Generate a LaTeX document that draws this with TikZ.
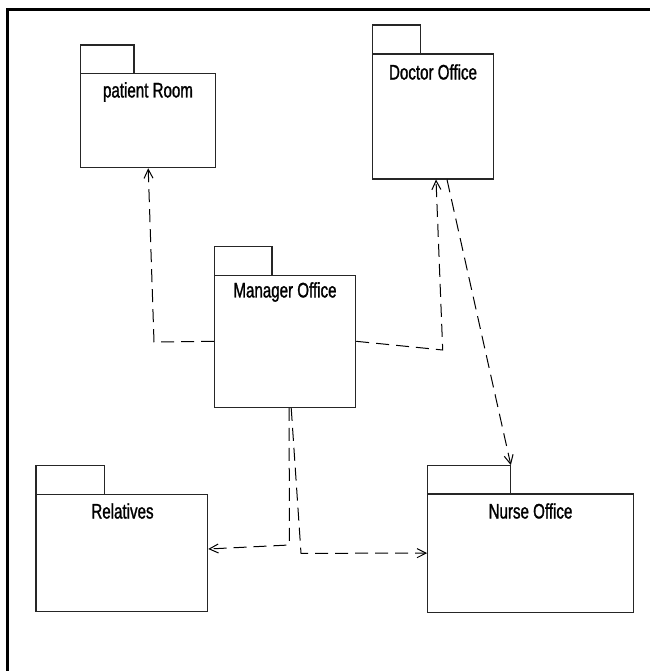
\documentclass[tikz,border=0pt]{standalone}
\usepackage{fontspec}
\setmainfont{Liberation Sans}[FakeStretch=0.72,FakeBold=1.2]
\usetikzlibrary{arrows.meta,calc}
\tikzset{
  pkgbox/.style={draw=black!85, line width=1.1pt, rectangle, inner sep=0pt, fill=white},
  pkgtitle/.style={inner sep=0pt, font=\fontsize{21}{24}\selectfont},
  dep/.style={draw=black, line width=1pt, dash pattern=on 13pt off 7pt,
    -{Straight Barb[length=9pt,width=9pt,line width=1pt]}},
  frameline/.style={line width=2.5pt}
}
\begin{document}
\begin{tikzpicture}[x=1pt,y=-1pt]
\useasboundingbox (0,0) rectangle (650,671);
\draw[frameline] (7.5,671) -- (7.5,9.5) -- (650,9.5);

% patient Room
\node[pkgbox, minimum width=53.3pt, minimum height=28.3pt] (prt) at (107.35,59.15) {};
\node[pkgbox, minimum width=135pt, minimum height=94.4pt] (pr) at (148.2,120.5) {};
\node[pkgtitle] (prl) at (148,92) {patient Room};

% Doctor Office
\node[pkgbox, minimum width=48pt, minimum height=29pt] (drt) at (396.7,39.5) {};
\node[pkgbox, minimum width=120.6pt, minimum height=125pt] (dr) at (433,116.5) {};
\node[pkgtitle] (drl) at (433,72) {Doctor Office};

% Manager Office
\node[pkgbox, minimum width=57.3pt, minimum height=28.6pt] (mot) at (243.35,261) {};
\node[pkgbox, minimum width=141pt, minimum height=132pt] (mo) at (285.2,341.3) {};
\node[pkgtitle] (mol) at (285,292) {Manager Office};

% Relatives
\node[pkgbox, minimum width=68.7pt, minimum height=28.6pt] (relt) at (70.35,480) {};
\node[pkgbox, minimum width=171.7pt, minimum height=117.4pt] (rel) at (121.85,553) {};
\node[pkgtitle] (rell) at (122.5,511) {Relatives};

% Nurse Office
\node[pkgbox, minimum width=82.6pt, minimum height=28.3pt] (not) at (469,479.85) {};
\node[pkgbox, minimum width=206pt, minimum height=118.3pt] (no) at (530.7,553.15) {};
\node[pkgtitle] (nol) at (530.5,511) {Nurse Office};

% bend points
\coordinate (b1) at (154,342);
\coordinate (b2) at (442.7,350);
\coordinate (b4) at (289.3,545);
\coordinate (b5) at (301,553.3);

% dependencies
\draw[dep] (mo.west) -- (b1) -- (pr.south);
\draw[dep] (mo.east) -- (b2) -- ([xshift=3pt]dr.south);
\draw[dep] ([xshift=14pt]dr.south) -- (not.north east);
\draw[dep] ([xshift=4pt]mo.south) -- (b4) -- ([yshift=4pt]rel.east);
\draw[dep] ([xshift=6pt]mo.south) -- (b5) -- (no.west);
\end{tikzpicture}
\end{document}
